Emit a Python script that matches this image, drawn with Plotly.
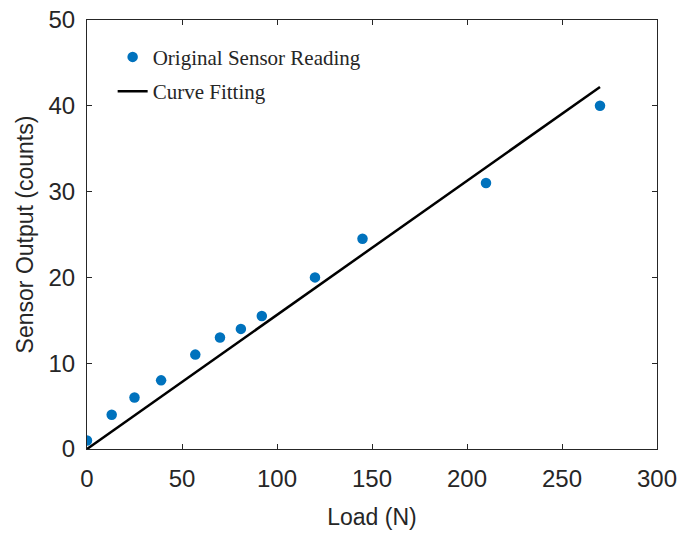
import plotly.graph_objects as go

load_n = [0, 13, 25, 39, 57, 70, 81, 92, 120, 145, 210, 270]
sensor_counts = [1, 4, 6, 8, 11, 13, 14, 15.5, 20, 24.5, 31, 40]
fit_x = [0, 270]
fit_y = [0, 42.2]

fig = go.Figure()
fig.add_trace(go.Scatter(x=load_n, y=sensor_counts, mode="markers",
                         name="Original Sensor Reading", legendgroup="a",
                         marker=dict(color="#0072BD", size=10.5)))
fig.add_trace(go.Scatter(x=fit_x, y=fit_y, mode="lines", name="Curve Fitting",
                         legendgroup="b",
                         line=dict(color="black", width=2.5)))

tick_font = dict(family="Liberation Sans, Arial", size=24, color="#262626")
title_font = dict(family="Liberation Sans, Arial", size=23, color="#262626")

axis_common = dict(showline=True, linecolor="#262626", linewidth=1, mirror="ticks",
                   ticks="inside", ticklen=5, tickcolor="#262626", showgrid=False,
                   zeroline=False, tickfont=tick_font, automargin=False)

fig.update_layout(
    width=681, height=534,
    margin=dict(l=87, r=24, t=20, b=85),
    paper_bgcolor="white", plot_bgcolor="white",
    xaxis=dict(range=[0, 300], dtick=50, ticklabelstandoff=8,
               title=dict(text="Load (N)", font=title_font, standoff=18),
               **axis_common),
    yaxis=dict(range=[0, 50], dtick=10, ticklabelstandoff=6,
               title=dict(text="Sensor Output (counts)", font=title_font, standoff=8),
               **axis_common),
    legend=dict(x=0.045, y=0.961, xanchor="left", yanchor="top",
                bgcolor="rgba(255,255,255,0)", borderwidth=0,
                font=dict(family="Liberation Serif, Times New Roman", size=21, color="#262626"),
                traceorder="grouped", tracegroupgap=4),
    showlegend=True,
)

fig.write_html("out.html")
